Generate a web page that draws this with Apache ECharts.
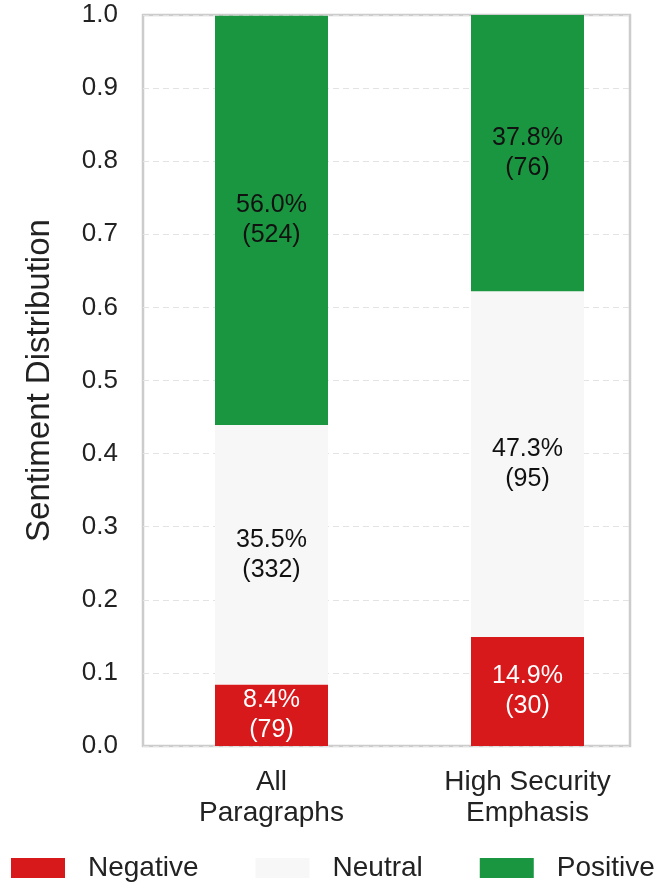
<!DOCTYPE html>
<html>
<head>
<meta charset="utf-8">
<script src="https://cdn.jsdelivr.net/npm/echarts@6/dist/echarts.min.js"></script>
<style>
  html, body { margin: 0; padding: 0; background: #fff; }
  #chart { width: 668px; height: 890px; }
</style>
</head>
<body>
<div id="chart"></div>
<script>
// categories and shares (fractions), counts in brackets
const groups = ['All\nParagraphs', 'High Security\nEmphasis'];
const negative = [0.084, 0.149];
const neutral = [0.355, 0.473];
const positive = [0.560, 0.378];
const negCount = [79, 30];
const neuCount = [332, 95];
const posCount = [524, 76];
const yTicks = [0, 0.1, 0.2, 0.3, 0.4, 0.5, 0.6, 0.7, 0.8, 0.9, 1.0];

const font = 'Liberation Sans, Arial, sans-serif';
const chart = echarts.init(document.getElementById('chart'));

function labelOf(vals, counts, color) {
  return {
    show: true,
    position: 'inside',
    color: color,
    fontFamily: font,
    fontSize: 25,
    lineHeight: 30,
    formatter: p => (vals[p.dataIndex] * 100).toFixed(1) + '%\n(' + counts[p.dataIndex] + ')'
  };
}

chart.setOption({
  animation: false,
  textStyle: { fontFamily: font },
  // grid 0 = frame + y ticks, grid 1 = bars (wider so bars sit where they do in the figure)
  grid: [
    { left: 143, right: 38, top: 15, bottom: 144, show: true, borderColor: '#cccccc', borderWidth: 2.5, containLabel: false },
    { left: 143.5, right: 12.5, top: 15, bottom: 144, show: false, containLabel: false }
  ],
  legend: {
    left: 6,
    top: 849,
    itemWidth: 54,
    itemHeight: 20,
    itemGap: 57,
    icon: 'rect',
    textStyle: { fontFamily: font, fontSize: 28, color: '#222', padding: [0, 0, 0, 18] },
    data: ['Negative', 'Neutral', 'Positive']
  },
  xAxis: [
    { type: 'value', gridIndex: 0, min: 0, max: 1, show: false },
    {
      type: 'category',
      gridIndex: 1,
      data: groups,
      axisLine: { show: false },
      axisTick: { show: false },
      axisLabel: { fontFamily: font, fontSize: 28, lineHeight: 31, color: '#222', margin: 21 }
    }
  ],
  yAxis: [
    {
      type: 'value',
      gridIndex: 0,
      min: yTicks[0],
      max: yTicks[yTicks.length - 1],
      interval: 0.1,
      name: 'Sentiment Distribution',
      nameLocation: 'middle',
      nameGap: 87,
      nameTextStyle: { fontFamily: font, fontSize: 33, color: '#222' },
      axisLine: { show: false },
      axisTick: { show: false },
      axisLabel: { fontFamily: font, fontSize: 26, color: '#222', margin: 25, formatter: v => v.toFixed(1) },
      splitLine: { show: true, lineStyle: { color: '#e3e3e3', width: 1, type: [6, 4] } }
    },
    { type: 'value', gridIndex: 1, min: 0, max: 1, show: false }
  ],
  series: [
    {
      name: 'Negative', type: 'bar', stack: 'total', xAxisIndex: 1, yAxisIndex: 1,
      barWidth: 113, data: negative, itemStyle: { color: '#d7191c' },
      label: labelOf(negative, negCount, '#ffffff')
    },
    {
      name: 'Neutral', type: 'bar', stack: 'total', xAxisIndex: 1, yAxisIndex: 1,
      barWidth: 113, data: neutral, itemStyle: { color: '#f7f7f7' },
      label: labelOf(neutral, neuCount, '#111111')
    },
    {
      name: 'Positive', type: 'bar', stack: 'total', xAxisIndex: 1, yAxisIndex: 1,
      barWidth: 113, data: positive, itemStyle: { color: '#1a9641' },
      label: labelOf(positive, posCount, '#111111')
    }
  ]
});
</script>
</body>
</html>
